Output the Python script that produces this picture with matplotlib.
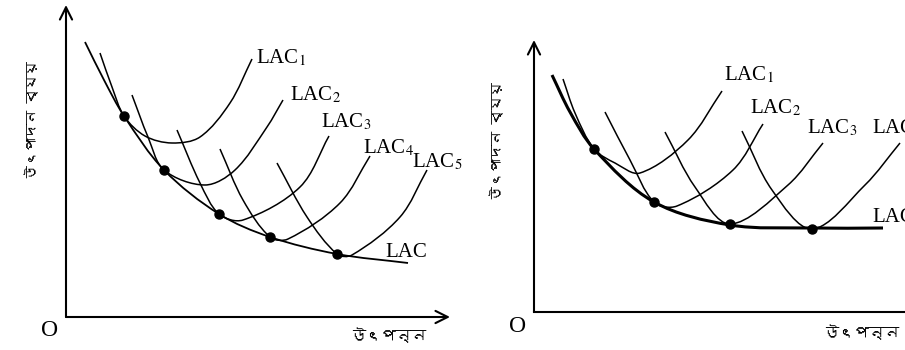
#LAC curve as envelope of the short run curves, two panels side by side
import matplotlib
matplotlib.use('Agg')
import numpy as np
import matplotlib.pyplot as plt
from matplotlib.path import Path
from matplotlib.patches import PathPatch
from matplotlib import font_manager
from matplotlib.ft2font import FT2Font

#left panel, (output, cost) measured from O
left_lac=[(19,275),(38,237),(58,201),(98,147),(153,103),(204,80),(271,63),(342,54)]
left_lac1=[(34,264),(46,230),(58,201),(79,181),(106,174),(134,180),(164,214),(186,258)]
left_lac2=[(66,222),(82,180),(98,147),(139,132),(169,147),(201,190),(217,217)]
left_lac3=[(111,187),(134,134),(153,103),(177,97),(234,130),(263,181)]
left_lac4=[(154,168),(177,117),(204,80),(222,78),(274,114),(304,161)]
left_lac5=[(211,154),(241,100),(271,63),(286,62),(334,100),(361,147)]
left_dots=[(58,201),(98,147),(153,103),(204,80),(271,63)]
left_names=['LAC$_1$','LAC$_2$','LAC$_3$','LAC$_4$','LAC$_5$','LAC']
left_name_pos=[(190,254),(224,217),(255,190),(297,164),(346,150),(319,60)]

#right panel
right_lac=[(18,237),(36,200),(60,163),(120,110),(196,87),(278,84),(349,84)]
right_lac1=[(29,233),(41,199),(60,163),(81,149),(106,139),(154,172),(188,221)]
right_lac2=[(71,200),(96,152),(120,110),(143,106),(199,142),(229,188)]
right_lac3=[(131,180),(161,125),(196,88),(254,127),(289,169)]
right_lac4=[(208,181),(238,122),(278,83),(331,127),(366,169)]
right_dots=[(60,163),(120,110),(196,88),(278,83)]
right_names=['LAC$_1$','LAC$_2$','LAC$_3$','LAC$_4$','LAC']
right_name_pos=[(190,232),(216,199),(273,179),(338,179),(338,90)]

ylab='উৎপাদন ব্যয়'
xlab='উৎপন্ন'

plt.rcParams['font.family']='Liberation Serif'
plt.rcParams['mathtext.fontset']='stix'

#find an installed font that has bengali letters
def bengali_font():
    for f in font_manager.fontManager.ttflist:
        try:
            if 0x0989 in FT2Font(f.fname).get_charmap():
                return f.name
        except Exception:
            pass
    return 'DejaVu Sans'
bfont=bengali_font()

#smooth line through the points (catmull-rom, chord length spacing, as bezier path)
def smooth(ax,pts,lw):
    p=np.array(pts,float)
    t=np.concatenate([[0],np.cumsum(np.hypot(*np.diff(p,axis=0).T))])
    m=np.zeros_like(p)
    m[0]=(p[1]-p[0])/(t[1]-t[0])
    m[-1]=(p[-1]-p[-2])/(t[-1]-t[-2])
    for i in range(1,len(p)-1):
        m[i]=(p[i+1]-p[i-1])/(t[i+1]-t[i-1])
    verts=[p[0]]
    codes=[Path.MOVETO]
    for i in range(len(p)-1):
        h=t[i+1]-t[i]
        verts+=[p[i]+m[i]*h/3,p[i+1]-m[i+1]*h/3,p[i+1]]
        codes+=[Path.CURVE4]*3
    ax.add_patch(PathPatch(Path(verts,codes),fill=False,lw=lw,color='black',capstyle='butt'))

def panel(ox,oy):
    ax=fig.add_axes([0,0,1,1])
    ax.set_xlim(-ox,905-ox)
    ax.set_ylim(oy-350,oy)
    ax.axis('off')
    return ax

fig=plt.figure(figsize=(9.05,3.5),dpi=100)
arrow=dict(arrowstyle='->',lw=1.5,mutation_scale=22,shrinkA=0,shrinkB=0)

#left
ax=panel(66,317)
ax.annotate('',xy=(0,312),xytext=(0,0),arrowprops=arrow)
ax.annotate('',xy=(384,0),xytext=(0,0),arrowprops=arrow)
smooth(ax,left_lac,1.3)
for c in [left_lac1,left_lac2,left_lac3,left_lac4,left_lac5]:
    smooth(ax,c,1.1)
ax.plot([d[0] for d in left_dots],[d[1] for d in left_dots],'o',color='black',markersize=6.5)
for n,pos in zip(left_names,left_name_pos):
    ax.text(pos[0],pos[1],n,fontsize=15,va='baseline',ha='left')
ax.text(-16,-13,'O',fontsize=17,ha='center',va='center')
ax.text(322,-18,xlab,fontsize=11,ha='center',va='center',family=[bfont,'DejaVu Sans'])
ax.text(-34,197,ylab,fontsize=10,ha='center',va='center',rotation=90,family=[bfont,'DejaVu Sans'])

#right
ax=panel(534,312)
ax.annotate('',xy=(0,272),xytext=(0,0),arrowprops=arrow)
ax.plot([0,380],[0,0],color='black',lw=1.5)
smooth(ax,right_lac,2.2)
for c in [right_lac1,right_lac2,right_lac3,right_lac4]:
    smooth(ax,c,1.1)
ax.plot([d[0] for d in right_dots],[d[1] for d in right_dots],'o',color='black',markersize=6.5)
for n,pos in zip(right_names,right_name_pos):
    ax.text(pos[0],pos[1],n,fontsize=15,va='baseline',ha='left')
ax.text(-16,-15,'O',fontsize=17,ha='center',va='center')
ax.text(327,-20,xlab,fontsize=11,ha='center',va='center',family=[bfont,'DejaVu Sans'])
ax.text(-37,171,ylab,fontsize=10,ha='center',va='center',rotation=90,family=[bfont,'DejaVu Sans'])

fig.savefig('out.png',dpi=100)
